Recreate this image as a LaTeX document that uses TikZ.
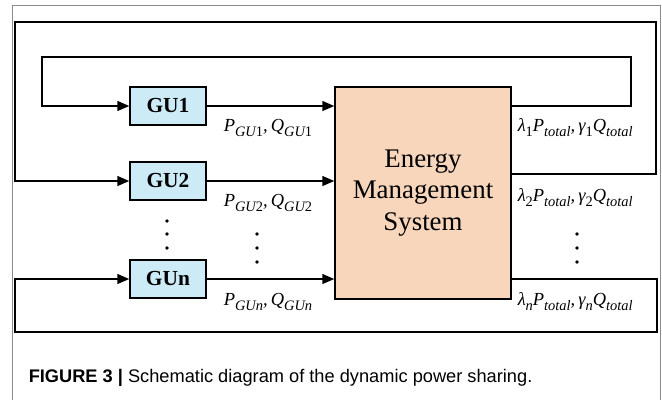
\documentclass[tikz,border=0pt]{standalone}
\usepackage{fontspec}
\setmainfont{Liberation Serif}
\setsansfont{Liberation Sans}
\usetikzlibrary{arrows.meta}
\definecolor{gufill}{HTML}{CCEBF7}
\definecolor{emsfill}{HTML}{F8D6BC}
\definecolor{framegray}{HTML}{8C8C8C}
\newcommand{\sbs}[1]{\raisebox{-0.3em}{\fontsize{14.5}{15}\selectfont\itshape #1}}
\tikzset{
  gubox/.style={draw, fill=gufill, minimum width=76bp, minimum height=38bp, inner sep=0pt,
    font=\fontsize{21.5}{22}\selectfont\bfseries},
  emsbox/.style={draw, fill=emsfill, minimum width=176bp, minimum height=212bp, inner sep=0pt,
    align=center, font=\fontsize{27}{32}\selectfont},
  arr/.style={-{Triangle[length=12bp,width=10bp]}},
  lbl/.style={anchor=base west, inner sep=0pt, font=\fontsize{18.5}{19}\selectfont\itshape},
  dotmark/.style={fill=black},
}
\begin{document}
\begin{tikzpicture}[x=1bp,y=-1bp,line width=1.5bp]
\useasboundingbox (0,0) rectangle (662,400);
\draw[framegray, line width=1bp] (12,400) -- (12,5) -- (660,5) -- (660,400);

\node[gubox] (gu1) at (168,106) {GU1};
\node[gubox] (gu2) at (168,181) {GU2};
\node[gubox] (gun) at (168,279) {GUn};
\node[emsbox] (ems) at (423,193) {Energy\\Management\\System};

\draw[arr] (gu1.east) -- (gu1.east -| ems.west);
\draw[arr] (gu2.east) -- (gu2.east -| ems.west);
\draw[arr] (gun.east) -- (gun.east -| ems.west);

\coordinate (r1) at (631,57);
\coordinate (l1) at (42,57);
\draw[arr] (ems.east |- gu1.east) -| (r1) -- (l1) |- (gu1.west);

\coordinate (o2) at (511,174);
\coordinate (r2) at (656,22);
\coordinate (l2) at (15,22);
\draw[arr] (o2) -| (r2) -- (l2) |- (gu2.west);

\coordinate (rn) at (657,332);
\coordinate (ln) at (15,332);
\draw[arr] (ems.east |- gun.east) -| (rn) -- (ln) |- (gun.west);

\node[lbl] (p1) at (223,131) {P\sbs{GU\upshape 1},\,Q\sbs{GU\upshape 1}};
\node[lbl] (p2) at (223,206) {P\sbs{GU\upshape 2},\,Q\sbs{GU\upshape 2}};
\node[lbl] (pn) at (223,305) {P\sbs{GUn},\,Q\sbs{GUn}};

\node[lbl] (q1) at (517,131) {λ\sbs{\upshape 1}P\sbs{total},\,γ\sbs{\upshape 1}Q\sbs{total}};
\node[lbl] (q2) at (517,201) {λ\sbs{\upshape 2}P\sbs{total},\,γ\sbs{\upshape 2}Q\sbs{total}};
\node[lbl] (qn) at (517,305) {λ\sbs{n}P\sbs{total},\,γ\sbs{n}Q\sbs{total}};

\foreach \yy in {221,234,248} \fill[dotmark] (167,\yy) circle (1.8bp);
\foreach \yy in {234,248,262} \fill[dotmark] (257,\yy) circle (1.8bp);
\foreach \yy in {234,248,262} \fill[dotmark] (577,\yy) circle (1.8bp);

\node[anchor=base west, inner sep=0pt, font=\sffamily\fontsize{18.3}{20}\selectfont] (cap) at (28,382)
  {\textbf{FIGURE 3 |} Schematic diagram of the dynamic power sharing.};
\end{tikzpicture}
\end{document}
